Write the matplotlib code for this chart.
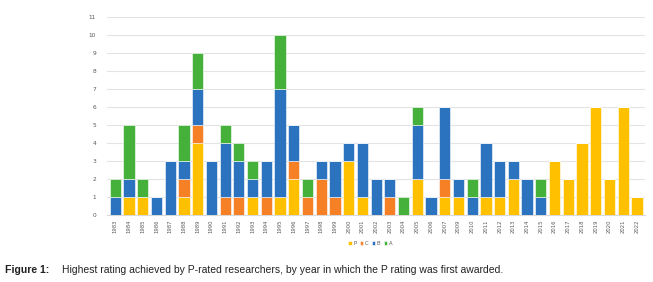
import matplotlib
matplotlib.use("Agg")
import matplotlib.pyplot as plt
import numpy as np

years = ["1983", "1984", "1985", "1986", "1987", "1988", "1989", "1990", "1991", "1992",
         "1993", "1994", "1995", "1996", "1997", "1998", "1999", "2000", "2001", "2002",
         "2003", "2004", "2005", "2006", "2007", "2009", "2010", "2011", "2012", "2013",
         "2014", "2015", "2016", "2017", "2018", "2019", "2020", "2021", "2022"]
P = [0, 1, 1, 0, 0, 1, 4, 0, 0, 0, 1, 0, 1, 2, 0, 0, 0, 3, 1, 0,
     0, 0, 2, 0, 1, 1, 0, 1, 1, 2, 0, 0, 3, 2, 4, 6, 2, 6, 1]
C = [0, 0, 0, 0, 0, 1, 1, 0, 1, 1, 0, 1, 0, 1, 1, 2, 1, 0, 0, 0,
     1, 0, 0, 0, 1, 0, 0, 0, 0, 0, 0, 0, 0, 0, 0, 0, 0, 0, 0]
B = [1, 1, 0, 1, 3, 1, 2, 3, 3, 2, 1, 2, 6, 2, 0, 1, 2, 1, 3, 2,
     1, 0, 3, 1, 4, 1, 1, 3, 2, 1, 2, 1, 0, 0, 0, 0, 0, 0, 0]
A = [1, 3, 1, 0, 0, 2, 2, 0, 1, 1, 1, 0, 3, 0, 1, 0, 0, 0, 0, 0,
     0, 1, 1, 0, 0, 0, 1, 0, 0, 0, 0, 1, 0, 0, 0, 0, 0, 0, 0]
series_names = ["P", "C", "B", "A"]
colors = ["#FFC000", "#F58025", "#2B72BF", "#45B03A"]

fig = plt.figure(figsize=(6.53, 2.82), dpi=100)
ax = fig.add_axes([0.164, 0.2376, 0.824, 0.7024])
x = np.arange(len(years))
bottom = np.zeros(len(years))
for name, vals, col in zip(series_names, [P, C, B, A], colors):
    v = np.array(vals, dtype=float)
    ax.bar(x, v, 0.82, bottom=bottom, color=col, edgecolor="white", linewidth=0.4,
           label=name, zorder=3)
    bottom += v

ax.set_ylim(0, 11)
ax.set_xlim(-0.6, len(years) - 0.4)
ax.set_yticks(range(0, 12))
ax.yaxis.grid(True, color="#E3E3E3", linewidth=0.8, zorder=0)
for s in ax.spines.values():
    s.set_visible(False)
ax.spines["bottom"].set_visible(True)
ax.spines["bottom"].set_color("#D9D9D9")
ax.spines["bottom"].set_linewidth(0.8)
ax.set_xticks(x)
ax.set_xticklabels(years, rotation=90, fontsize=3.8, color="#595959")
ax.tick_params(axis="y", labelsize=4.2, labelcolor="#595959", length=0, pad=8)
ax.tick_params(axis="x", length=0, pad=3)

leg = fig.legend(loc="center", bbox_to_anchor=(0.567, 0.138), ncol=4, frameon=False,
                 fontsize=3.8, handlelength=0.7, handleheight=0.7, handletextpad=0.3,
                 columnspacing=0.6, labelcolor="#595959")

fig.text(0.008, 0.043, "Figure 1:", fontsize=7.6, fontweight="bold",
         family="Liberation Sans", color="#222222", va="center")
fig.text(0.095, 0.043,
         "Highest rating achieved by P-rated researchers, by year in which the P rating was first awarded.",
         fontsize=7.5, family="Liberation Sans", color="#222222", va="center")

fig.savefig("out.png", dpi=100)
